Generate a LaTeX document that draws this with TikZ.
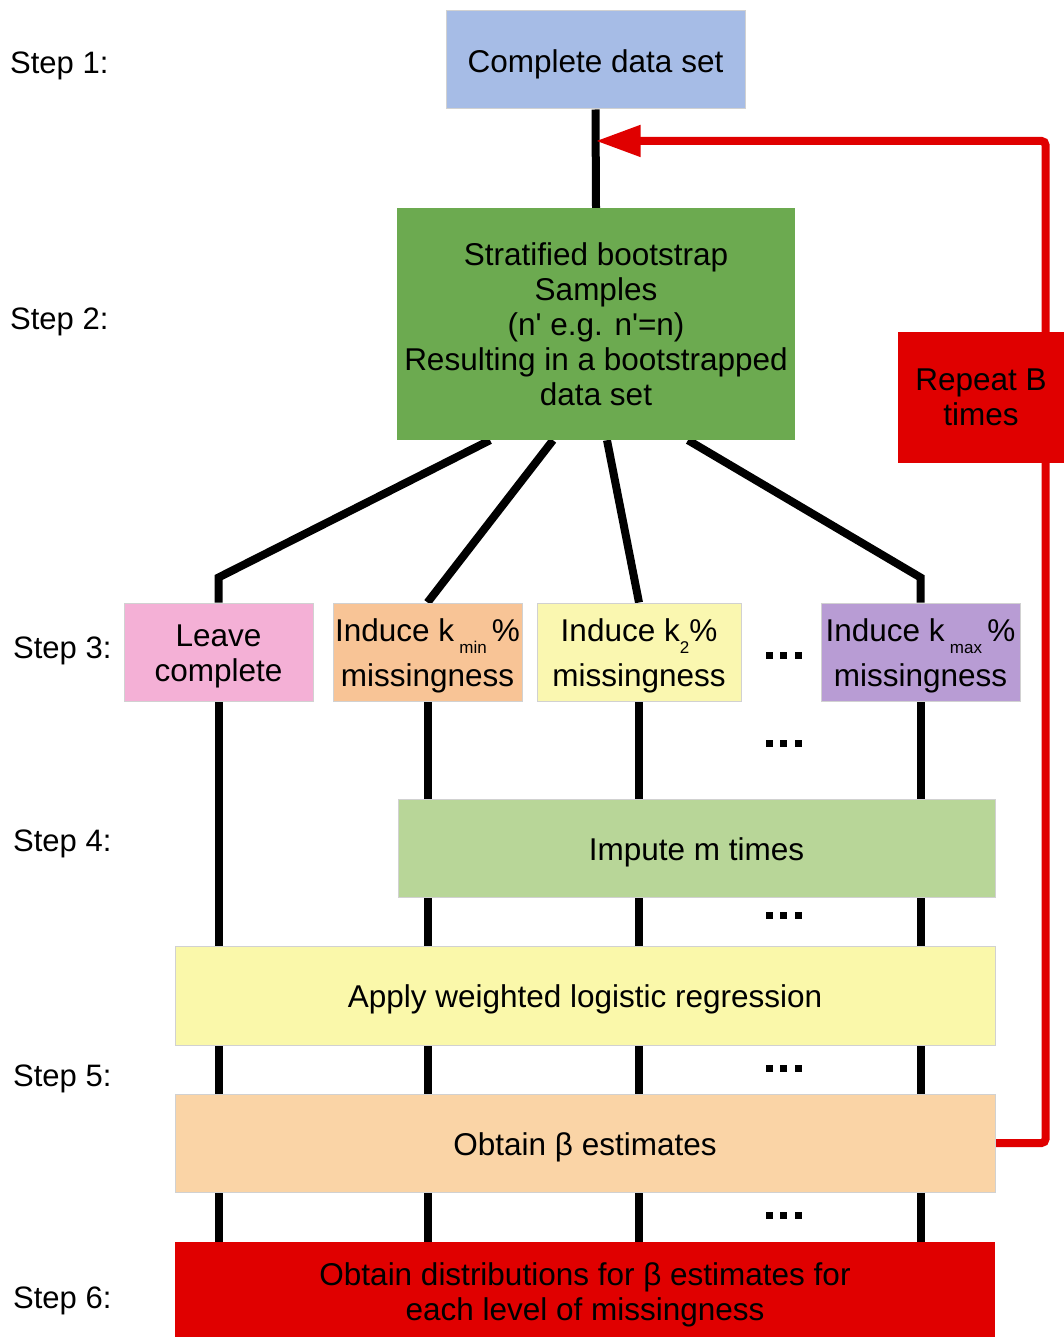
\documentclass[tikz,border=0pt]{standalone}
\usepackage{fontspec}
\setmainfont{Liberation Sans}[Ligatures=TeXOff]
\usetikzlibrary{arrows.meta,backgrounds,calc}

\definecolor{fullblue}{RGB}{166,188,230}
\definecolor{bootgreen}{RGB}{108,170,80}
\definecolor{loopred}{RGB}{224,0,0}
\definecolor{leavepink}{RGB}{244,176,214}
\definecolor{minorange}{RGB}{248,196,150}
\definecolor{twoyellow}{RGB}{250,247,176}
\definecolor{maxpurple}{RGB}{184,156,212}
\definecolor{imputegreen}{RGB}{184,214,152}
\definecolor{regyellow}{RGB}{250,248,170}
\definecolor{betapeach}{RGB}{250,212,166}

% subscript set low under the baseline
\newcommand\lowsub[1]{\raisebox{-12pt}{\fontsize{17}{17}\selectfont #1}}
% strut that pushes a box's text a little lower
\newcommand\lift{\rule{0pt}{31pt}}

\begin{document}
\begin{tikzpicture}[x=1pt,y=-1pt,
  box/.style={rectangle, inner sep=0pt, align=center, text=black,
              font=\fontsize{31.5}{35}\selectfont},
  pastel/.style={box, draw=black!18, line width=1pt},
  wire/.style={line width=8pt, black},
  loopwire/.style={line width=8pt, loopred, rounded corners=4pt},
  steplabel/.style={anchor=west, inner sep=0pt, font=\fontsize{31}{35}\selectfont}]

\useasboundingbox (0,0) rectangle (1063,1337);

% step labels
\node[steplabel] (s1) at (10,66)   {Step 1:};
\node[steplabel] (s2) at (10,322)  {Step 2:};
\node[steplabel] (s3) at (13,651)  {Step 3:};
\node[steplabel] (s4) at (13,844)  {Step 4:};
\node[steplabel] (s5) at (13,1079) {Step 5:};
\node[steplabel] (s6) at (13,1301) {Step 6:};

% boxes
\node[pastel, fill=fullblue, minimum width=299pt, minimum height=98pt]
  (full) at (595.5,60) {\lift Complete data set};
\node[box, fill=bootgreen, minimum width=398pt, minimum height=232pt]
  (boot) at (596,324) {Stratified bootstrap\\Samples\\(n' e.g. n'=n)\\Resulting in a bootstrapped\\data set};
\node[box, fill=loopred, minimum width=167pt, minimum height=131pt]
  (repeat) at (981,397.5) {Repeat B\\times};

\node[pastel, fill=leavepink, minimum width=189pt, minimum height=98pt]
  (leave) at (218.5,652) {\lift Leave\\complete};
\node[pastel, fill=minorange, minimum width=189pt, minimum height=98pt,
      font=\fontsize{31.5}{45}\selectfont]
  (kmin) at (427.5,652) {\lift Induce k\,\lowsub{min}\,\%\\missingness};
\node[pastel, fill=twoyellow, minimum width=204pt, minimum height=98pt,
      font=\fontsize{31.5}{45}\selectfont]
  (ktwo) at (639,652) {\lift Induce k\lowsub{2}\%\\missingness};
\node[pastel, fill=maxpurple, minimum width=199pt, minimum height=98pt,
      font=\fontsize{31.5}{45}\selectfont]
  (kmax) at (920.5,652) {\lift Induce k\,\lowsub{max}\,\%\\missingness};

\node[pastel, fill=imputegreen, minimum width=597pt, minimum height=98pt]
  (impute) at (696.5,848) {\lift Impute m times};
\node[pastel, fill=regyellow, minimum width=820pt, minimum height=99pt]
  (regress) at (585,995.5) {\lift Apply weighted logistic regression};
\node[pastel, fill=betapeach, minimum width=820pt, minimum height=98pt]
  (beta) at (585,1143) {\lift Obtain β estimates};
\node[box, fill=loopred, minimum width=820pt, minimum height=95pt]
  (dist) at (585,1289.5) {\rule{0pt}{34pt}Obtain distributions for β estimates for\\each level of missingness};

% ellipses between the columns
\foreach \y in {655,743,915,1068,1215}
  \foreach \x in {769,783.5,798}
    \fill[black] (\x-3.5,\y-3.5) rectangle (\x+3.5,\y+3.5);

\begin{scope}[on background layer]
  \fill[white] (0,0) rectangle (1063,1337);

  % trunk
  \draw[wire] (full.south) -- (boot.north);
  \coordinate (rejoin) at ($(full.south)!0.32!(boot.north)$);

  % branches to the missingness levels
  \draw[wire] ([xshift=-106pt]boot.south) -- ([yshift=25pt]leave.north) -- (leave.north);
  \draw[wire] ([xshift=-43pt]boot.south) -- (kmin.north);
  \draw[wire] ([xshift=11pt]boot.south) -- (ktwo.north);
  \draw[wire] ([xshift=92pt]boot.south) -- ([yshift=25pt]kmax.north) -- (kmax.north);

  % columns down to the final box
  \foreach \n in {leave,kmin,ktwo,kmax}
    \draw[wire] (\n.south) -- (\n.south |- dist.north);

  % bootstrap repetition loop
  \draw[loopwire, -{Triangle[length=45pt,width=30pt]}]
    (beta.east) -- ++(50,0) |- (rejoin);
\end{scope}
\end{tikzpicture}
\end{document}
